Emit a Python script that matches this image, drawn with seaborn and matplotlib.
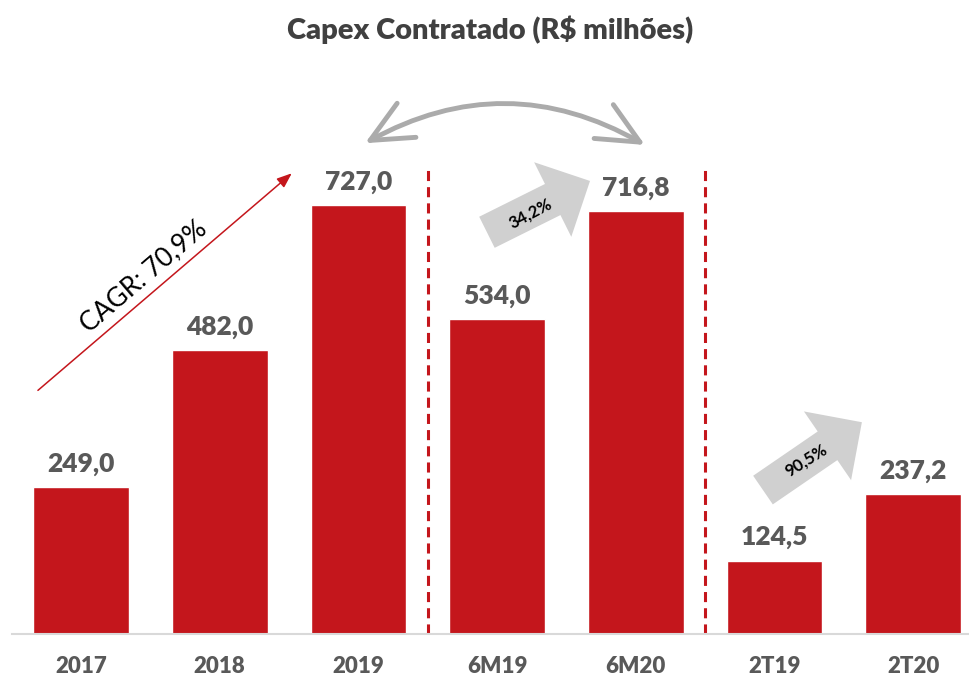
import matplotlib
matplotlib.use("Agg")
import matplotlib.pyplot as plt
import seaborn as sns
from matplotlib.patches import FancyArrowPatch

categories = ["2017", "2018", "2019", "6M19", "6M20", "2T19", "2T20"]
values = [249.0, 482.0, 727.0, 534.0, 716.8, 124.5, 237.2]
cagr_text = "CAGR: 70,9%"
growth_labels = ["34,2%", "90,5%"]
title = "Capex Contratado (R$ milhões)"

RED = "#C4161C"
GRAY_TXT = "#595959"

sns.set_style("white")
plt.rcParams["font.family"] = ["Lato", "DejaVu Sans"]

fig = plt.figure(figsize=(9.7, 6.83), dpi=100)
ax = fig.add_axes([12 / 970, 49 / 683, 956 / 970, 584 / 683])

sns.barplot(x=categories, y=values, color=RED, saturation=1, width=0.69, ax=ax)

labels = [f"{v:.1f}".replace(".", ",") for v in values]
ax.bar_label(ax.containers[0], labels=labels, padding=8, fontsize=19,
             fontweight="heavy", color=GRAY_TXT)

ax.set_xlim(-0.497, 6.395)
ax.set_ylim(0, 990)
ax.set_yticks([])
ax.set_xlabel("")
ax.set_ylabel("")
sns.despine(ax=ax, left=True)
ax.spines["bottom"].set_color("#D9D9D9")
ax.spines["bottom"].set_linewidth(1.5)
ax.tick_params(axis="x", length=0, pad=16)
for t in ax.get_xticklabels():
    t.set_fontsize(16)
    t.set_fontweight("heavy")
    t.set_color(GRAY_TXT)

# separators
ax.vlines([2.5, 4.5], 0, 790, colors=RED, linewidth=2.2,
          linestyles=[(0, (3.3, 2))])

# CAGR arrow
ax.annotate("", xy=(1.52, 781), xytext=(-0.31, 413),
            arrowprops=dict(arrowstyle="-|>,head_length=0.9,head_width=0.35",
                            color=RED, lw=1.1, shrinkA=0, shrinkB=0))
ax.text(0.45, 607, cagr_text, rotation=40.5, ha="center", va="center",
        fontsize=19, color="black", rotation_mode="anchor")

# growth block arrows
block = dict(arrowstyle="simple,tail_width=2.5,head_width=6,head_length=3",
             mutation_scale=10, fc="#D0D0D0", ec="none", shrinkA=0, shrinkB=0)
ax.annotate("", xy=(3.67, 768), xytext=(2.927, 681), arrowprops=block)
ax.text(3.24, 712, growth_labels[0], rotation=28, ha="center", va="center",
        fontsize=12, fontweight="bold", color="black", rotation_mode="anchor")
ax.annotate("", xy=(5.63, 359), xytext=(4.917, 244), arrowprops=block)
ax.text(5.23, 295, growth_labels[1], rotation=32, ha="center", va="center",
        fontsize=12, fontweight="bold", color="black", rotation_mode="anchor")

# curved double arrow
curve = FancyArrowPatch((2.048, 832), (4.066, 829),
                        connectionstyle="arc3,rad=-0.28",
                        arrowstyle="<->,head_length=3,head_width=1.4",
                        mutation_scale=10, color="#ABABAB", lw=3.5,
                        shrinkA=0, shrinkB=0)
ax.add_patch(curve)

fig.text(0.505, 1 - 30 / 683, title, ha="center", va="center",
         fontsize=21, fontweight="heavy", color="#404040")

fig.savefig("out.png", dpi=100)
